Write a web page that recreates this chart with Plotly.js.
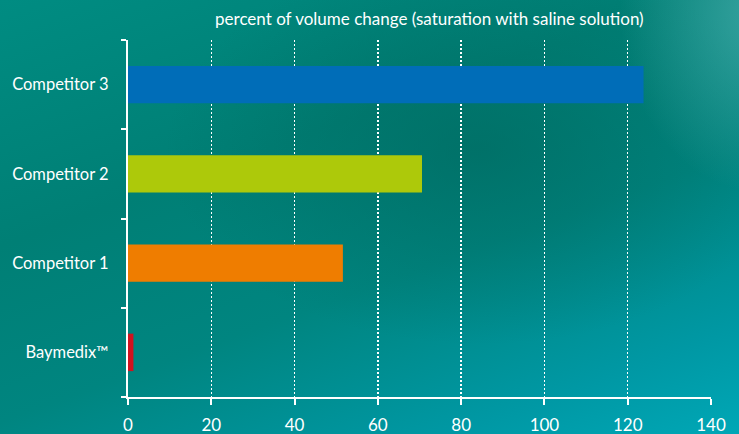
<!DOCTYPE html>
<html>
<head>
<meta charset="utf-8">
<script src="https://cdn.plot.ly/plotly-3.0.1.min.js"></script>
<style>
html,body{margin:0;padding:0;width:739px;height:434px;overflow:hidden;}
body{
  background:
    radial-gradient(ellipse 200px 260px at 760px 10px, rgba(90,185,185,0.6), rgba(90,185,185,0) 70%),
    radial-gradient(ellipse 420px 260px at 480px 150px, rgba(0,100,90,0.55), rgba(0,100,90,0) 75%),
    linear-gradient(160deg, #008c82 0%, #007f75 35%, #008580 60%, #0098a4 85%, #00a7b6 100%);
}
#chart{width:739px;height:434px;}
</style>
</head>
<body>
<div id="chart"></div>
<script>
const categories = ["Baymedix™", "Competitor 1", "Competitor 2", "Competitor 3"];
const values = [1.3, 51.6, 70.6, 123.8];
const barColors = ["#d2121e", "#ef7d00", "#adc90a", "#006db8"];
const xTicks = [0, 20, 40, 60, 80, 100, 120, 140];
const chartTitle = "percent of volume change (saturation with saline solution)";

const font = "Lato, 'Open Sans', sans-serif";

Plotly.newPlot("chart", [{
  type: "bar",
  orientation: "h",
  y: categories,
  x: values,
  marker: {color: barColors, line: {width: 0}},
  hoverinfo: "x+y"
}], {
  width: 739, height: 434,
  margin: {l: 128, r: 28, t: 40, b: 37},
  paper_bgcolor: "rgba(0,0,0,0)",
  plot_bgcolor: "rgba(0,0,0,0)",
  bargap: 0.58,
  showlegend: false,
  font: {family: font, color: "#ffffff", size: 16},
  title: {
    text: chartTitle,
    x: 0.581, xanchor: "center",
    y: 0.955, yanchor: "middle",
    font: {family: font, size: 17, color: "#ffffff"}
  },
  xaxis: {
    range: [0, 140],
    tickvals: xTicks,
    ticktext: xTicks.map(String),
    showgrid: true,
    gridcolor: "#ffffff",
    griddash: "2px,2px",
    gridwidth: 1.5,
    zeroline: false,
    showline: true,
    linecolor: "#ffffff",
    linewidth: 2,
    ticks: "outside",
    ticklen: 6,
    tickwidth: 2,
    tickcolor: "#ffffff",
    ticklabelstandoff: 6,
    tickfont: {family: font, size: 17, color: "#ffffff"},
    fixedrange: true
  },
  yaxis: {
    type: "category",
    categoryorder: "array",
    categoryarray: categories,
    tickson: "boundaries",
    ticks: "outside",
    ticklen: 5,
    tickwidth: 2,
    tickcolor: "#ffffff",
    showline: true,
    linecolor: "#ffffff",
    linewidth: 2,
    showgrid: false,
    zeroline: false,
    ticklabelstandoff: 14,
    tickfont: {family: font, size: 16.5, color: "#ffffff"},
    fixedrange: true
  }
}, {displayModeBar: false, staticPlot: true});
</script>
</body>
</html>
